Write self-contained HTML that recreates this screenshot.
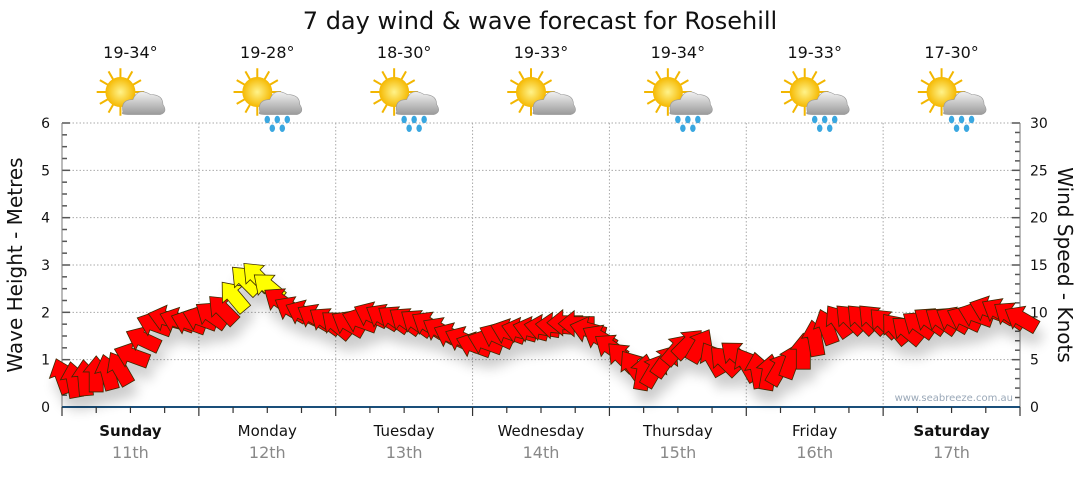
<!DOCTYPE html>
<html><head><meta charset="utf-8">
<style>
body{margin:0;background:#fff;width:1080px;height:475px;overflow:hidden;font-family:"Liberation Sans","DejaVu Sans",sans-serif;}
svg text{font-family:"DejaVu Sans","Liberation Sans",sans-serif;}
</style></head>
<body>
<svg id="chart" width="1080" height="475" viewBox="0 0 1080 475" xmlns="http://www.w3.org/2000/svg">
<defs>
<filter id="sh" x="-50%" y="-50%" width="200%" height="200%"><feGaussianBlur in="SourceAlpha" stdDeviation="6"/><feOffset dx="4" dy="12"/><feComponentTransfer><feFuncA type="linear" slope="0.2"/></feComponentTransfer><feMerge><feMergeNode/><feMergeNode in="SourceGraphic"/></feMerge></filter>
<radialGradient id="sun" cx="0.5" cy="0.5" r="0.5"><stop offset="0" stop-color="#fff38a"/><stop offset="1" stop-color="#f5b800"/></radialGradient>
<linearGradient id="cloud" x1="0" y1="0" x2="0" y2="1"><stop offset="0" stop-color="#f2f2f2"/><stop offset="1" stop-color="#9a9a9a"/></linearGradient>
</defs>
<text x="540" y="29" text-anchor="middle" font-size="24" fill="#111">7 day wind &amp; wave forecast for Rosehill</text>
<g id="grid"></g>
<g id="axes"></g>
<g id="arrows" filter="url(#sh)"></g>
<g id="days"></g>
<g id="wx"></g>
<text transform="translate(22,265) rotate(-90)" text-anchor="middle" font-size="20" fill="#111">Wave Height - Metres</text>
<text transform="translate(1058,265) rotate(90)" text-anchor="middle" font-size="20" fill="#111">Wind Speed - Knots</text>
<text x="1013" y="401" text-anchor="end" font-size="10" fill="#9aa8b8">www.seabreeze.com.au</text>
</svg>
<script>
const dayNames=["Sunday","Monday","Tuesday","Wednesday","Thursday","Friday","Saturday"];
const dayDates=["11th","12th","13th","14th","15th","16th","17th"];
const dayBold=[true,false,false,false,false,false,true];
const temps=["19-34°","19-28°","18-30°","19-33°","19-34°","19-33°","17-30°"];
const rain=[false,true,true,false,true,true,true];
const waveTicks=[0,1,2,3,4,5,6];
const windTicks=[0,5,10,15,20,25,30];
const windSpeed=[3.4,3.0,3.2,3.6,3.8,4.2,5.5,7.2,8.8,9.4,9.2,9.0,
 9.4,9.8,10.4,11.8,13.5,13.9,12.8,11.3,10.4,10.0,9.6,9.2,
 8.8,8.9,9.2,9.8,9.6,9.4,9.2,9.0,8.8,8.2,7.6,7.2,
 6.6,6.9,7.6,8.0,8.1,8.2,8.4,8.6,8.9,8.8,8.2,7.4,
 6.4,5.4,4.4,3.8,4.0,5.0,6.2,6.8,6.6,5.2,5.0,5.6,
 4.6,4.0,3.8,4.2,5.0,6.0,7.4,8.6,9.2,9.4,9.4,9.4,
 9.0,8.4,8.2,8.8,9.2,9.2,9.3,9.4,9.8,10.4,10.2,9.8,9.4];
const windDir=[250,260,265,270,255,240,200,205,200,195,200,200,
 200,215,225,230,225,225,220,215,210,205,210,215,
 220,210,200,205,210,215,215,215,212,210,205,205,
 200,200,205,200,195,195,190,185,180,180,195,210,
 215,225,235,280,300,305,310,315,300,240,225,220,
 240,260,280,300,290,270,260,250,235,225,225,225,
 225,230,220,215,215,215,210,205,200,200,210,215,210];
const stepHours=2;

const NS="http://www.w3.org/2000/svg";
const X0=62,X1=1020,Y0=407,Y1=123,DAYW=(X1-X0)/7;
const xT=h=>X0+h/168*(X1-X0);
const yWave=m=>Y0-m/6*(Y0-Y1);
const yWind=k=>Y0-k/30*(Y0-Y1);
function mk(tag,parent,attrs){const e=document.createElementNS(NS,tag);for(const k in attrs)e.setAttribute(k,attrs[k]);parent.appendChild(e);return e;}
const grid=document.getElementById('grid'),axes=document.getElementById('axes');
waveTicks.forEach(v=>{if(v>0){const l=mk('line',grid,{x1:X0,x2:X1,y1:yWave(v),y2:yWave(v),stroke:'#aaa','stroke-dasharray':'1.5,2'});}
 const t=mk('text',axes,{x:X0-12,y:yWave(v)+5,'text-anchor':'end','font-size':14,fill:'#111'});t.textContent=v;});
windTicks.forEach(v=>{const t=mk('text',axes,{x:X1+10,y:yWind(v)+5,'font-size':14,fill:'#111'});t.textContent=v;});
for(let d=1;d<7;d++){const l=mk('line',grid,{x1:X0+d*DAYW,x2:X0+d*DAYW,y1:Y1,y2:Y0,stroke:'#aaa','stroke-dasharray':'1.5,2'});}
for(let i=0;i<=24;i++){const y=Y0-i*(Y0-Y1)/24,len=i%4==0?8:5;mk('line',axes,{x1:X0,x2:X0+len,y1:y,y2:y,stroke:'#555','stroke-width':1.5});}
for(let i=0;i<=30;i++){const y=Y0-i*(Y0-Y1)/30,len=i%5==0?8:5;mk('line',axes,{x1:X1-len,x2:X1,y1:y,y2:y,stroke:'#555','stroke-width':1.5});}
mk('line',axes,{x1:X0,x2:X0,y1:Y1,y2:Y0,stroke:'#777'});
mk('line',axes,{x1:X1,x2:X1,y1:Y1,y2:Y0,stroke:'#777'});
mk('line',axes,{x1:X0,x2:X1,y1:Y0,y2:Y0,stroke:'#1a4f7a','stroke-width':2});
for(let i=0;i<=28;i++){const x=X0+i*DAYW/4;mk('line',axes,{x1:x,x2:x,y1:Y0,y2:Y0+(i%4==0?9:6),stroke:'#333','stroke-width':1.2});}
const arrows=document.getElementById('arrows');
const shape="M17,0 L1,-13 L1,-7 L-19,-7 L-19,7 L1,7 L1,13 Z";
windSpeed.forEach((k,i)=>{const x=xT(i*stepHours),y=yWind(k);
 const p=mk('path',arrows,{d:shape,transform:`translate(${x},${y}) rotate(${windDir[i]})`,fill:k>=11.5?'#ffff00':'#ff0000',stroke:'#3a2a00','stroke-width':0.8});
 
 });
const days=document.getElementById('days'),wx=document.getElementById('wx');
dayNames.forEach((n,d)=>{const cx=X0+(d+0.5)*DAYW;
 const a=mk('text',days,{x:cx,y:436,'text-anchor':'middle','font-size':15,fill:'#111','font-weight':dayBold[d]?'bold':'normal'});a.textContent=n;
 const b=mk('text',days,{x:cx,y:458,'text-anchor':'middle','font-size':16,fill:'#888'});b.textContent=dayDates[d];
 const t=mk('text',wx,{x:cx,y:58,'text-anchor':'middle','font-size':16,fill:'#111'});t.textContent=temps[d];
 const g=mk('g',wx,{transform:`translate(${cx},${97}) scale(1.25)`});
 for(let r=0;r<12;r++){const ang=r*30*Math.PI/180;mk('line',g,{x1:-8+Math.cos(ang)*11,y1:-4+Math.sin(ang)*11,x2:-8+Math.cos(ang)*19,y2:-4+Math.sin(ang)*19,stroke:'#f2b600','stroke-width':1.6});}
 mk('circle',g,{cx:-8,cy:-4,r:12,fill:'url(#sun)'});
 mk('path',g,{d:"M-6,12 Q-8,2 2,2 Q6,-8 16,-2 Q26,-2 26,6 Q30,12 24,14 L-2,14 Q-8,14 -6,12 Z",fill:'url(#cloud)',stroke:'#999','stroke-width':0.5});
 if(rain[d]){[[0,18],[8,18],[16,18],[4,25],[12,25]].forEach(q=>mk('ellipse',g,{cx:q[0],cy:q[1],rx:2.2,ry:3,fill:'#3aa7e0'}));}
});
</script>
</body></html>
